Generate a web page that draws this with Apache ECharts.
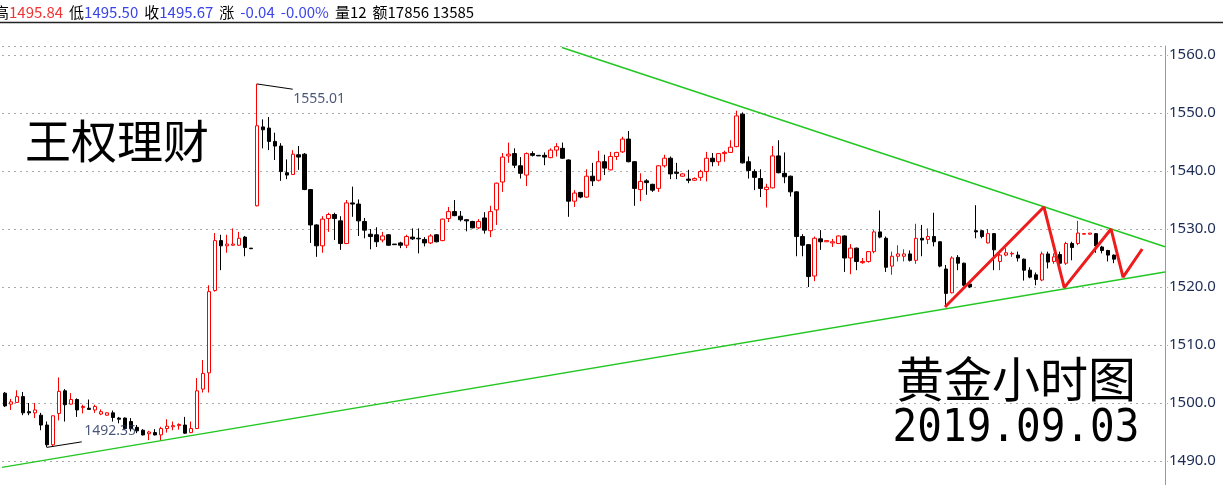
<!DOCTYPE html>
<html>
<head>
<meta charset="utf-8">
<script src="https://cdn.jsdelivr.net/npm/echarts@6/dist/echarts.min.js"></script>
<style>
html, body { margin: 0; padding: 0; background: #fff; overflow: hidden; }
#chart { width: 1223px; height: 540px; }
</style>
</head>
<body>
<div id="chart"></div>
<script>
// hourly gold candles, [open, close, low, high]
const candles = [
    [1501.7, 1499.5, 1499.3, 1501.9], [1499.8, 1500.2, 1498.8, 1500.7], [1500.1, 1501.1, 1500.0, 1502.2], [1501.1, 1498.3, 1497.9, 1501.9], [1498.5, 1498.3, 1497.9, 1500.0],
    [1498.3, 1498.8, 1497.4, 1500.0], [1497.9, 1496.2, 1495.3, 1498.3], [1496.2, 1492.8, 1492.35, 1496.8], [1492.8, 1497.8, 1492.5, 1497.8], [1498.2, 1502.0, 1497.0, 1504.4],
    [1502.1, 1499.7, 1496.8, 1502.4], [1499.8, 1500.6, 1499.7, 1501.7], [1500.6, 1498.8, 1497.6, 1500.8], [1499.2, 1499.4, 1498.2, 1499.7], [1499.1, 1498.9, 1498.9, 1500.6],
    [1498.8, 1499.4, 1498.3, 1499.7], [1498.1, 1498.5, 1497.9, 1498.9], [1497.9, 1498.3, 1497.8, 1498.4], [1498.3, 1497.5, 1496.8, 1498.7], [1497.4, 1497.2, 1496.5, 1497.6],
    [1497.4, 1495.6, 1495.5, 1497.5], [1496.8, 1495.6, 1495.1, 1497.4], [1495.8, 1495.2, 1494.8, 1496.2], [1495.3, 1494.5, 1494.4, 1495.5], [1494.7, 1495.0, 1493.6, 1495.2],
    [1494.9, 1494.5, 1494.4, 1495.5], [1494.5, 1495.6, 1493.6, 1495.9], [1495.6, 1496.0, 1494.9, 1497.2], [1495.9, 1496.1, 1495.3, 1496.8], [1496.1, 1496.3, 1495.4, 1496.5],
    [1496.2, 1494.8, 1494.7, 1497.6], [1494.9, 1495.6, 1494.8, 1496.8], [1495.6, 1502.1, 1495.5, 1504.3], [1502.4, 1505.1, 1501.8, 1507.4], [1505.2, 1519.2, 1501.8, 1520.3],
    [1519.4, 1528.0, 1519.2, 1529.3], [1528.0, 1527.1, 1522.9, 1529.0], [1527.1, 1527.4, 1525.9, 1529.0], [1527.2, 1527.4, 1527.1, 1530.1], [1527.2, 1528.4, 1527.1, 1529.5],
    [1528.6, 1526.8, 1525.3, 1528.8], [1526.7, 1526.6, 1526.6, 1526.7], [1534.0, 1547.8, 1533.9, 1555.01], [1547.6, 1547.1, 1543.9, 1548.9], [1547.4, 1545.1, 1543.6, 1549.3],
    [1545.1, 1544.3, 1541.9, 1546.6], [1544.3, 1539.9, 1538.3, 1544.8], [1539.7, 1539.3, 1538.6, 1542.0], [1539.4, 1542.9, 1539.3, 1543.6], [1542.8, 1542.4, 1540.2, 1544.3],
    [1542.9, 1536.8, 1536.7, 1543.1], [1536.8, 1530.7, 1527.6, 1536.9], [1530.7, 1527.1, 1525.2, 1530.8], [1527.1, 1531.7, 1525.9, 1532.2], [1531.8, 1532.5, 1529.5, 1532.8],
    [1532.5, 1531.8, 1528.1, 1532.8], [1531.4, 1527.5, 1526.4, 1532.2], [1527.5, 1534.5, 1527.4, 1535.0], [1534.5, 1534.3, 1532.1, 1537.3], [1534.3, 1531.4, 1528.8, 1535.1],
    [1531.3, 1529.8, 1528.4, 1531.9], [1529.1, 1528.7, 1526.5, 1530.0], [1529.0, 1527.8, 1526.9, 1530.3], [1528.1, 1528.8, 1527.7, 1529.5], [1529.0, 1527.2, 1527.1, 1529.1],
    [1527.4, 1527.3, 1527.3, 1527.4], [1527.6, 1527.2, 1526.7, 1527.8], [1527.2, 1528.7, 1526.7, 1529.0], [1528.6, 1528.3, 1528.1, 1530.1], [1528.4, 1528.3, 1525.8, 1530.1],
    [1528.2, 1527.6, 1527.0, 1528.6], [1527.6, 1528.8, 1527.4, 1529.1], [1529.0, 1527.8, 1527.7, 1529.1], [1528.0, 1531.7, 1527.9, 1531.8], [1531.8, 1533.0, 1531.2, 1533.8],
    [1533.0, 1532.3, 1532.2, 1535.0], [1532.2, 1531.6, 1531.3, 1533.1], [1531.6, 1531.4, 1529.6, 1531.7], [1531.3, 1530.2, 1530.1, 1531.4], [1530.2, 1531.3, 1530.0, 1531.7],
    [1531.9, 1529.8, 1529.2, 1532.9], [1529.7, 1533.0, 1528.6, 1534.0], [1533.3, 1537.9, 1530.7, 1538.0], [1538.1, 1542.4, 1536.4, 1543.1], [1542.6, 1542.9, 1541.4, 1544.9],
    [1543.0, 1541.0, 1540.5, 1543.9], [1540.9, 1539.6, 1538.7, 1542.4], [1539.3, 1543.0, 1537.4, 1543.2], [1543.0, 1542.7, 1542.5, 1543.4], [1542.7, 1542.6, 1542.6, 1542.7],
    [1542.7, 1542.4, 1541.0, 1543.2], [1542.3, 1543.6, 1542.2, 1543.9], [1543.6, 1544.2, 1542.5, 1544.8], [1543.9, 1542.2, 1542.1, 1544.9], [1541.9, 1534.8, 1532.1, 1542.0],
    [1534.8, 1536.2, 1533.8, 1536.7], [1536.3, 1535.5, 1535.3, 1536.4], [1535.5, 1539.1, 1535.4, 1540.3], [1539.1, 1538.3, 1537.4, 1541.4], [1538.4, 1541.6, 1538.2, 1543.5],
    [1541.6, 1540.5, 1539.3, 1542.8], [1540.2, 1542.5, 1540.1, 1543.3], [1542.5, 1543.2, 1541.9, 1543.3], [1543.3, 1545.5, 1543.1, 1545.9], [1545.5, 1541.6, 1541.5, 1546.9],
    [1541.6, 1537.0, 1534.0, 1541.7], [1536.8, 1538.2, 1534.8, 1539.6], [1538.3, 1538.0, 1535.9, 1538.6], [1537.7, 1536.7, 1536.4, 1537.8], [1537.0, 1540.9, 1536.4, 1541.0],
    [1540.9, 1542.2, 1540.6, 1542.8], [1542.2, 1539.5, 1538.6, 1542.5], [1539.8, 1539.6, 1538.6, 1541.4], [1539.1, 1539.5, 1539.0, 1539.6], [1538.6, 1538.4, 1537.9, 1540.2],
    [1538.4, 1538.7, 1538.3, 1538.9], [1538.9, 1539.9, 1538.3, 1540.2], [1539.9, 1542.2, 1538.2, 1543.3], [1542.2, 1541.6, 1540.8, 1543.1], [1541.6, 1543.0, 1540.9, 1543.1],
    [1543.0, 1543.2, 1541.6, 1543.5], [1543.2, 1544.1, 1543.1, 1545.3], [1544.2, 1549.5, 1544.1, 1550.4], [1549.8, 1541.4, 1541.3, 1550.1], [1541.6, 1540.1, 1538.7, 1542.5],
    [1539.9, 1538.9, 1536.7, 1540.3], [1538.7, 1537.0, 1535.5, 1540.3], [1536.8, 1537.2, 1533.7, 1537.8], [1537.1, 1542.6, 1537.0, 1544.3], [1542.6, 1539.7, 1539.6, 1545.3],
    [1539.6, 1539.0, 1537.9, 1543.2], [1539.1, 1536.4, 1535.6, 1539.2], [1536.4, 1528.7, 1525.3, 1536.5], [1528.7, 1527.2, 1525.3, 1529.1], [1527.3, 1521.8, 1520.0, 1527.4],
    [1521.9, 1528.4, 1521.0, 1528.7], [1528.3, 1527.8, 1526.4, 1529.8], [1527.8, 1528.0, 1527.8, 1528.0], [1527.6, 1527.8, 1526.9, 1528.3], [1527.5, 1528.8, 1527.4, 1528.9],
    [1528.8, 1525.0, 1522.6, 1528.9], [1525.0, 1526.7, 1522.2, 1527.4], [1526.7, 1524.4, 1522.9, 1526.8], [1524.2, 1524.4, 1524.0, 1525.0], [1524.4, 1526.1, 1524.2, 1526.2],
    [1526.1, 1529.5, 1525.8, 1529.8], [1529.5, 1528.6, 1528.4, 1533.2], [1528.4, 1523.4, 1522.6, 1528.7], [1523.6, 1525.3, 1522.1, 1526.1], [1525.3, 1525.7, 1524.4, 1527.2],
    [1525.3, 1525.7, 1524.4, 1526.5], [1525.7, 1524.6, 1524.4, 1526.3], [1524.6, 1528.4, 1524.0, 1530.9], [1528.4, 1528.1, 1525.3, 1530.7], [1528.2, 1528.7, 1527.4, 1530.1],
    [1528.7, 1527.8, 1527.0, 1532.8], [1527.8, 1523.6, 1523.4, 1527.9], [1523.1, 1518.9, 1516.9, 1523.8], [1519.0, 1525.0, 1518.9, 1525.3], [1525.1, 1524.1, 1522.9, 1525.5],
    [1524.1, 1520.3, 1520.1, 1524.2], [1520.5, 1520.0, 1519.8, 1520.8], [1529.7, 1529.5, 1528.4, 1534.1], [1529.7, 1528.7, 1528.4, 1529.8], [1527.6, 1529.2, 1527.5, 1530.0],
    [1529.2, 1526.4, 1522.9, 1529.3], [1524.4, 1525.5, 1522.9, 1525.8], [1525.5, 1525.9, 1525.3, 1526.7], [1525.7, 1525.8, 1525.2, 1526.1], [1525.5, 1525.0, 1524.4, 1526.1],
    [1524.8, 1522.9, 1521.1, 1524.9], [1522.9, 1521.7, 1521.5, 1523.4], [1522.1, 1521.3, 1520.3, 1522.5], [1521.2, 1525.7, 1521.0, 1526.1], [1525.7, 1524.3, 1523.2, 1526.1],
    [1524.4, 1525.2, 1524.0, 1525.8], [1525.6, 1524.1, 1523.8, 1526.1], [1524.1, 1527.5, 1523.8, 1527.8], [1527.5, 1526.8, 1524.6, 1527.8], [1527.5, 1529.3, 1527.2, 1531.4],
    [1529.1, 1529.2, 1529.1, 1529.3], [1529.1, 1529.3, 1529.1, 1529.3], [1529.2, 1527.1, 1525.9, 1529.3], [1526.9, 1526.3, 1525.8, 1527.1], [1526.3, 1525.5, 1524.4, 1526.4],
    [1525.5, 1524.8, 1524.1, 1525.6]
];
const emptySlots = 8;      // blank hours to the right of the last candle
const priceTicks = [1480, 1570, 10];

// hand-drawn marks, [hour index, price]
const upperTrend = [[92.9, 1561.3], [193.5, 1526.95]];
const lowerTrend = [[-0.5, 1488.9], [193.5, 1522.6]];
const zigzag = [[156.8, 1516.55], [173.3, 1533.8], [176.7, 1519.9], [184.5, 1530.0], [186.5, 1521.7], [189.7, 1526.55]];
const highMark = [[42, 1555.01], [48, 1554.1]];
const lowMark = [[7, 1492.35], [12.8, 1493.3]];

const hours = candles.map((c, i) => i);
for (let k = 0; k < emptySlots; k++) hours.push(candles.length + k);
const slotCount = hours.length;

const chart = echarts.init(document.getElementById('chart'));

function markLine(data) {
    return {
        type: 'line', xAxisIndex: 1, data: data, symbol: 'none', silent: true,
        lineStyle: { color: '#000', width: 1 }, z: 4
    };
}
function markText(point, text, pos) {
    return {
        type: 'scatter', xAxisIndex: 1, data: [point], symbolSize: 1, silent: true, z: 6,
        itemStyle: { color: 'transparent' },
        label: { show: true, position: pos, formatter: text, color: '#1c2b56', fontSize: 14, fontFamily: 'Noto Sans' }
    };
}

const hf = { fontSize: 15, fontFamily: 'Noto Sans CJK SC' };

chart.setOption({
    animation: false,
    backgroundColor: '#fff',
    // chart is taller than the window; 1480 sits just below the visible edge
    grid: { left: 2, right: 58, top: 46, bottom: 21 },
    xAxis: [
        { type: 'category', data: hours, boundaryGap: true, show: false },
        { type: 'value', min: -0.5, max: slotCount - 0.5, show: false }
    ],
    yAxis: {
        type: 'value', position: 'right',
        min: priceTicks[0], max: 1561.55, interval: priceTicks[2],
        axisLine: { show: true, onZero: false, lineStyle: { color: '#999', width: 1 } },
        axisTick: { show: true, length: 4, lineStyle: { color: '#aaa', type: 'dotted' } },
        axisLabel: {
            color: '#1c2b56', fontSize: 15, fontFamily: 'Noto Sans', margin: 4,
            formatter: v => v.toFixed(1)
        },
        splitLine: { show: true, lineStyle: { color: '#aaa', type: [2, 4], width: 1 } }
    },
    series: [
        {
            type: 'candlestick', data: candles, barWidth: 4, z: 3,
            itemStyle: { color: '#fff', color0: '#000', borderColor: '#f00', borderColor0: '#000', borderWidth: 1 }
        },
        {
            type: 'line', xAxisIndex: 1, data: upperTrend, symbol: 'none', silent: true, z: 2,
            lineStyle: { color: '#22c722', width: 1.5 }
        },
        {
            type: 'line', xAxisIndex: 1, data: lowerTrend, symbol: 'none', silent: true, z: 2,
            lineStyle: { color: '#22c722', width: 1.5 }
        },
        {
            type: 'line', xAxisIndex: 1, data: zigzag, symbol: 'none', silent: true, z: 5,
            lineStyle: { color: '#ee1c1c', width: 3 }
        },
        markLine(highMark),
        markLine(lowMark),
        markText(highMark[1], '1555.01', [1, 3]),
        markText(lowMark[1], '1492.35', [3, -17])
    ],
    graphic: [
        {
            type: 'text', x: -6, y: 12, z: 10,
            style: {
                text: '{k|高}{r|1495.84}{s| }{k|低}{b|1495.50}{s| }{k|收}{b|1495.67}{s| }{k|涨}{s| }{b|-0.04}{s| }{b|-0.00%}{s| }{k|量12}{s| }{k|额17856 13585}',
                verticalAlign: 'middle',
                rich: {
                    k: Object.assign({ fill: '#000' }, hf),
                    r: Object.assign({ fill: '#f03434' }, hf),
                    b: Object.assign({ fill: '#3a44e6' }, hf),
                    s: Object.assign({ width: 6 }, hf)
                }
            }
        },
        {
            type: 'line', z: 10,
            shape: { x1: 0, y1: 22.5, x2: 1223, y2: 22.5 },
            style: { stroke: '#222', lineWidth: 1.5 }
        },
        {
            type: 'text', x: 117, y: 141, z: 10,
            style: { text: '王权理财', fill: '#000', font: '46px "Noto Sans CJK SC"', align: 'center', verticalAlign: 'middle' }
        },
        {
            type: 'text', x: 1016, y: 379, z: 10,
            style: { text: '黄金小时图', fill: '#000', font: '48px "Noto Sans CJK SC"', align: 'center', verticalAlign: 'middle' }
        },
        {
            type: 'text', x: 1016, y: 429, z: 10, scaleY: 1.1,
            style: { text: '2019.09.03', fill: '#000', font: '41px "DejaVu Sans Mono"', align: 'center', verticalAlign: 'middle' }
        }
    ]
});
</script>
</body>
</html>
